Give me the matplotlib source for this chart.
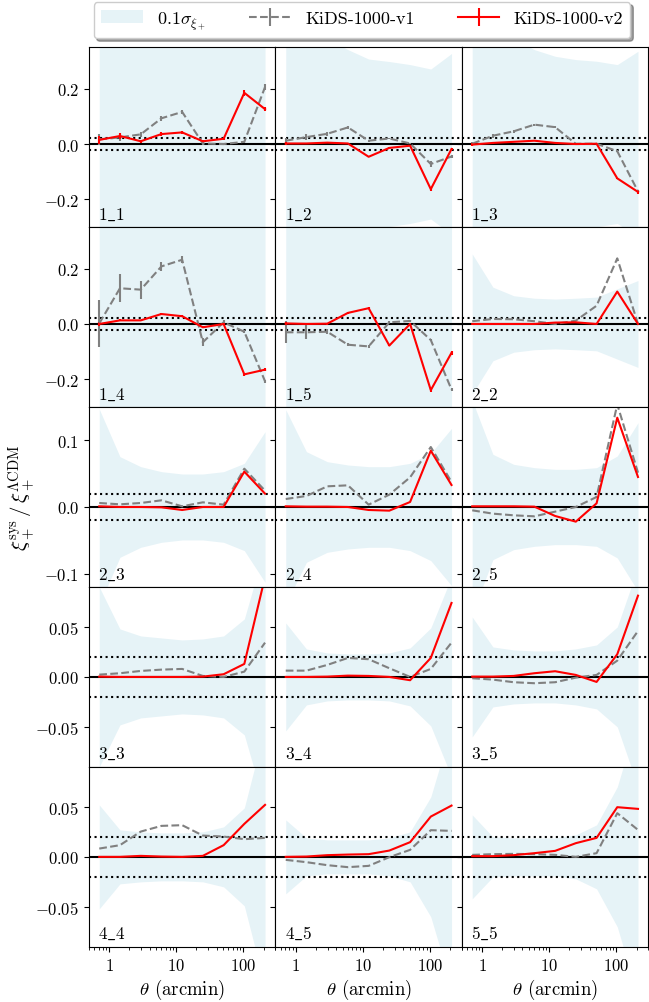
import matplotlib
matplotlib.use("Agg")
import matplotlib.pyplot as plt
from matplotlib.patches import Patch
from matplotlib.ticker import ScalarFormatter, NullFormatter

plt.rcParams.update({
    "font.family": "serif",
    "font.serif": ["cmr10"],
    "mathtext.fontset": "cm",
    "axes.formatter.use_mathtext": True,
    "font.size": 12,
})

# angular bin centres (arcmin)
theta = [0.713, 1.45, 2.96, 6.02, 12.25, 24.9, 50.8, 103.3, 210.3]

panels = ["1_1", "1_2", "1_3", "1_4", "1_5",
          "2_2", "2_3", "2_4", "2_5",
          "3_3", "3_4", "3_5",
          "4_4", "4_5", "5_5"]

# 0.1 sigma_xi+ / xi+ (half width of the shaded band)
band = [
    [0.80, 0.60, 0.50, 0.45, 0.42, 0.40, 0.38, 0.37, 0.45],
    [0.60, 0.45, 0.381, 0.341, 0.307, 0.298, 0.287, 0.271, 0.327],
    [0.60, 0.45, 0.380, 0.341, 0.317, 0.305, 0.299, 0.287, 0.335],
    [0.90, 0.70, 0.60, 0.50, 0.45, 0.42, 0.40, 0.35, 0.45],
    [1.00, 0.80, 0.70, 0.60, 0.55, 0.50, 0.48, 0.45, 0.55],
    [0.253, 0.133, 0.102, 0.093, 0.090, 0.093, 0.097, 0.127, 0.157],
    [0.147, 0.0755, 0.0605, 0.053, 0.0495, 0.0495, 0.053, 0.0655, 0.113],
    [0.146, 0.083, 0.068, 0.063, 0.0605, 0.0605, 0.0655, 0.0805, 0.118],
    [0.160, 0.079, 0.064, 0.059, 0.0565, 0.0565, 0.059, 0.0765, 0.1265],
    [0.090, 0.048, 0.041, 0.039, 0.037, 0.038, 0.041, 0.058, 0.13],
    [0.054, 0.028, 0.024, 0.023, 0.023, 0.024, 0.029, 0.049, 0.10],
    [0.060, 0.030, 0.027, 0.026, 0.026, 0.028, 0.032, 0.050, 0.11],
    [0.052, 0.027, 0.025, 0.024, 0.024, 0.025, 0.030, 0.049, 0.13],
    [0.037, 0.019, 0.017, 0.017, 0.017, 0.019, 0.025, 0.060, 0.13],
    [0.042, 0.020, 0.019, 0.019, 0.019, 0.022, 0.032, 0.070, 0.14],
]

# KiDS-1000-v1 (grey dashed)
v1 = [
    [0.017, 0.024, 0.035, 0.093, 0.116, 0.002, 0.0, 0.008, 0.206],
    [0.012, 0.025, 0.037, 0.060, 0.012, 0.020, 0.002, -0.072, -0.045],
    [0.001, 0.030, 0.046, 0.070, 0.061, 0.001, 0.001, -0.026, -0.171],
    [0.002, 0.129, 0.124, 0.208, 0.232, -0.066, 0.006, -0.028, -0.207],
    [-0.030, -0.030, -0.028, -0.075, -0.081, 0.006, 0.011, -0.058, -0.237],
    [0.010, 0.018, 0.017, 0.010, 0.0, 0.012, 0.066, 0.237, 0.0],
    [0.006, 0.004, 0.006, 0.010, 0.001, 0.007, 0.0035, 0.0575, 0.0245],
    [0.012, 0.0165, 0.031, 0.0325, 0.0035, 0.0185, 0.0445, 0.090, 0.0375],
    [-0.005, -0.010, -0.0125, -0.014, -0.007, 0.0, 0.015, 0.154, 0.0515],
    [0.0023, 0.0037, 0.006, 0.0073, 0.008, 0.001, 0.0, 0.0053, 0.0343],
    [0.0063, 0.0063, 0.012, 0.019, 0.0177, 0.0087, 0.0, 0.008, 0.0343],
    [-0.0013, -0.0027, -0.0053, -0.0063, -0.0053, -0.0007, 0.002, 0.0163, 0.046],
    [0.0083, 0.0117, 0.0253, 0.031, 0.0317, 0.0213, 0.0203, 0.0177, 0.019],
    [-0.003, -0.0053, -0.0083, -0.0103, -0.009, -0.0003, 0.007, 0.0267, 0.026],
    [0.002, 0.0027, 0.003, 0.0027, 0.002, 0.0, 0.0037, 0.0437, 0.027],
]

# KiDS-1000-v2 (red solid)
v2 = [
    [0.015, 0.029, 0.010, 0.036, 0.042, 0.010, 0.019, 0.185, 0.126],
    [0.002, 0.002, 0.005, 0.002, -0.046, -0.014, -0.006, -0.163, -0.018],
    [-0.002, 0.004, 0.008, 0.012, 0.004, 0.0, 0.001, -0.124, -0.173],
    [0.0, 0.013, 0.013, 0.036, 0.028, -0.012, 0.0, -0.182, -0.165],
    [0.002, 0.0, 0.001, 0.040, 0.057, -0.078, 0.0, -0.239, -0.104],
    [0.0, 0.0, 0.0, 0.0, 0.005, 0.006, 0.0, 0.117, 0.0],
    [0.001, 0.0, 0.0, -0.0005, -0.0045, 0.0, 0.0, 0.053, 0.020],
    [0.001, 0.0005, 0.0005, 0.0, -0.0045, -0.0055, 0.0075, 0.0845, 0.033],
    [0.001, 0.001, 0.001, 0.0005, -0.0135, -0.022, 0.0055, 0.134, 0.045],
    [0.0003, 0.0, 0.0, 0.0, 0.0, 0.0003, 0.0027, 0.013, 0.10],
    [0.0, 0.0, 0.0003, 0.0013, 0.001, 0.0, -0.0033, 0.019, 0.074],
    [0.0003, 0.0003, 0.001, 0.0037, 0.0057, 0.002, -0.005, 0.0227, 0.0813],
    [0.0, 0.0, 0.001, 0.0003, 0.0, 0.001, 0.0117, 0.033, 0.052],
    [0.0, 0.0003, 0.0017, 0.0023, 0.0027, 0.0063, 0.0147, 0.0403, 0.0513],
    [0.0007, 0.0007, 0.0017, 0.0037, 0.006, 0.0137, 0.019, 0.0497, 0.048],
]

# error bars, only visible for the first tomographic bin
v1_err = [
    [0.020, 0.012, 0.010, 0.008, 0.008, 0.004, 0.004, 0.004, 0.010],
    [0.010, 0.010, 0.008, 0.005, 0.004, 0.003, 0.003, 0.010, 0.005],
    [0.008, 0.008, 0.005, 0.004, 0.003, 0.002, 0.002, 0.004, 0.006],
    [0.085, 0.051, 0.033, 0.015, 0.012, 0.015, 0.008, 0.005, 0.005],
    [0.040, 0.025, 0.010, 0.006, 0.005, 0.004, 0.003, 0.005, 0.005],
]
v2_err = [
    [0.015, 0.010, 0.006, 0.006, 0.005, 0.004, 0.004, 0.010, 0.006],
    [0.005, 0.003, 0.003, 0.002, 0.002, 0.002, 0.002, 0.008, 0.004],
    [0.006, 0.003, 0.002, 0.002, 0.002, 0.002, 0.002, 0.003, 0.006],
    [0.006, 0.004, 0.003, 0.003, 0.003, 0.003, 0.003, 0.006, 0.006],
    [0.006, 0.004, 0.003, 0.003, 0.003, 0.003, 0.003, 0.008, 0.008],
]

row_ylim = [(-0.3, 0.35), (-0.3, 0.35), (-0.12, 0.15), (-0.09, 0.09), (-0.09, 0.09)]
row_yticks = [[-0.2, 0.0, 0.2], [-0.2, 0.0, 0.2], [-0.1, 0.0, 0.1],
              [-0.05, 0.0, 0.05], [-0.05, 0.0, 0.05]]

fig, axes = plt.subplots(5, 3, figsize=(6.49, 10.03), dpi=100, sharex=True, sharey="row",
                         gridspec_kw=dict(hspace=0, wspace=0, left=0.137, right=0.999,
                                          top=0.952, bottom=0.055))

for i, lab in enumerate(panels):
    ax = axes.flat[i]
    b = band[i]
    ax.fill_between(theta, [-x for x in b], b, color="lightblue", alpha=0.3, lw=0)
    ax.axhline(0, color="k", lw=1.5)
    ax.axhline(0.02, color="k", ls=":", lw=1.5)
    ax.axhline(-0.02, color="k", ls=":", lw=1.5)
    e1 = v1_err[i] if i < len(v1_err) else None
    e2 = v2_err[i] if i < len(v2_err) else None
    ax.errorbar(theta, v1[i], yerr=e1, color="gray", ls="--", lw=1.5)
    ax.errorbar(theta, v2[i], yerr=e2, color="red", ls="-", lw=1.5)
    ax.text(0.05, 0.03, r"$%s\_%s$" % tuple(lab.split("_")), transform=ax.transAxes,
            ha="left", va="bottom", fontsize=12.5)

for r in range(5):
    axes[r, 0].set_ylim(*row_ylim[r])
    axes[r, 0].set_yticks(row_yticks[r])

ax0 = axes[0, 0]
ax0.set_xscale("log")
ax0.set_xlim(0.5, 300)
ax0.set_xticks([1, 10, 100])
for ax in axes[-1]:
    ax.xaxis.set_major_formatter(ScalarFormatter())
    ax.xaxis.set_minor_formatter(NullFormatter())
    ax.set_xlabel(r"$\theta$ (arcmin)", fontsize=13.5, labelpad=3)

fig.text(0.034, 0.504, r"$\xi_+^{\rm sys}\,/\,\xi_+^{\Lambda{\rm CDM}}$", rotation=90,
         ha="center", va="center", fontsize=15)

handles = [
    Patch(facecolor="lightblue", alpha=0.3, lw=0),
    axes[0, 0].containers[0],
    axes[0, 0].containers[1],
]
labels = [r"$0.1\sigma_{\xi_+}$", "KiDS-1000-v1", "KiDS-1000-v2"]
fig.legend(handles, labels, loc="upper center", bbox_to_anchor=(0.558, 1.006), ncol=3,
           shadow=True, fontsize=13, columnspacing=2.4, handlelength=2.3)

fig.savefig("out.png", dpi=100)
